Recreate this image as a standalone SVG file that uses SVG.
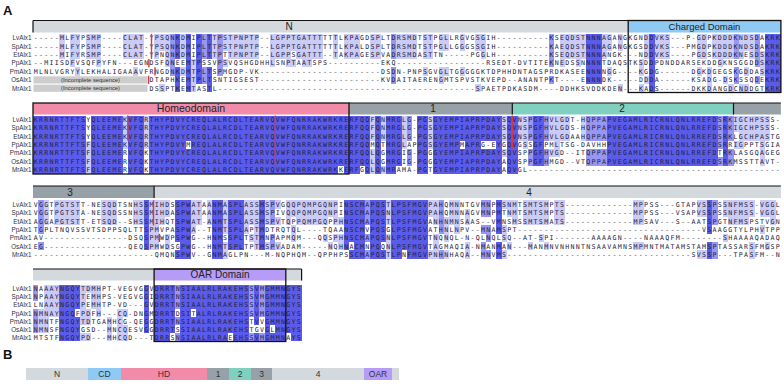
<svg xmlns="http://www.w3.org/2000/svg" width="784" height="386" viewBox="0 0 784 386">
<style>
.seq{font-family:"DejaVu Sans Mono",monospace;font-size:6.6px;letter-spacing:1.293px;fill:#22223a}
.lab{font-family:"Liberation Sans",Arial,sans-serif;font-size:6.3px;fill:#333;text-anchor:end}
.hd{font-family:"Liberation Sans",Arial,sans-serif;font-size:10px;fill:#222;text-anchor:middle}
.inc{font-family:"Liberation Sans",Arial,sans-serif;font-size:5.8px;fill:#333;text-anchor:middle}
.big{font-family:"Liberation Sans",Arial,sans-serif;font-size:13px;font-weight:bold;fill:#111}
.bl{font-family:"Liberation Sans",Arial,sans-serif;font-size:8.5px;fill:#333;text-anchor:middle}
.d{fill:#5b5be9}.m{fill:#9797f3}.l{fill:#cbcbf8}
.ng{fill:#d3d9dd}.dg{fill:#96a1a8}.pk{fill:#f28aa9}.tl{fill:#80d0c0}.cb{fill:#8ecaf4}.pu{fill:#b69cf7}
.box{fill:none;stroke:#111;stroke-width:1.3}
.ln{stroke:#111;stroke-width:1.2}
.rd{stroke:#d9373d;stroke-width:1.4}
.gb{fill:#cdcdcd}
</style>

<text class="big" x="3" y="15">A</text>

<!-- Block 1 -->
<g id="block1">
<rect class="ng" x="33" y="20.5" width="595.2" height="12"/>
<rect class="cb" x="628.2" y="20.5" width="152.7" height="12"/>
<line class="ln" x1="33" y1="20.5" x2="628.2" y2="20.5"/>
<line class="ln" x1="33" y1="20.5" x2="33" y2="32.5"/>
<text class="hd" x="289" y="30">N</text>
<text class="hd" x="704.5" y="30" style="font-size:9.5px">Charged Domain</text>
<g transform="translate(33,33.9) scale(5.267,8.35)" shape-rendering="crispEdges">
<path class="d" d="M27 0h1v3h-1zM27 4h1v3h-1zM29 0h1v7h-1zM31 0h1v6h-1zM33 0h1v3h-1zM33 4h1v3h-1zM105 0h3v6h-3zM117 0h1v7h-1zM139 0h3v7h-3z"/>
<path class="m" d="M26 0h1v5h-1zM32 0h1v3h-1zM32 4h1v2h-1zM35 0h1v5h-1zM68 0h1v3h-1zM68 4h1v2h-1zM98 0h1v4h-1zM98 5h1v1h-1zM133 0h1v3h-1zM133 4h1v2h-1zM137 0h1v4h-1zM137 5h1v1h-1z"/>
<path class="l" d="M5 0h1v2h-1zM7 0h2v2h-2zM10 0h3v2h-3zM17 0h4v2h-4zM23 0h3v2h-3zM28 0h1v2h-1zM34 0h1v2h-1zM36 0h7v2h-7zM45 0h10v2h-10zM57 0h1v2h-1zM59 0h3v2h-3zM64 0h2v2h-2zM69 0h4v2h-4zM74 0h2v2h-2zM77 0h2v2h-2zM81 0h1v2h-1zM84 0h2v2h-2zM100 0h5v2h-5zM108 0h2v2h-2zM111 0h1v2h-1zM116 0h1v2h-1zM118 0h3v2h-3zM126 0h2v2h-2zM129 0h4v2h-4zM134 0h3v2h-3z
M5 2h1v1h-1zM7 2h2v1h-2zM10 2h3v1h-3zM17 2h4v1h-4zM23 2h1v1h-1zM25 2h1v1h-1zM28 2h1v1h-1zM34 2h1v1h-1zM37 2h6v1h-6zM45 2h4v1h-4zM50 2h5v1h-5zM57 2h1v1h-1zM59 2h3v1h-3zM64 2h2v1h-2zM69 2h4v1h-4zM74 2h2v1h-2zM85 2h1v1h-1zM100 2h5v1h-5zM108 2h1v1h-1zM116 2h1v1h-1zM118 2h3v1h-3zM126 2h2v1h-2zM129 2h4v1h-4zM134 2h1v1h-1zM136 2h1v1h-1zM138 2h1v1h-1z
M7 3h1v1h-1zM12 3h1v1h-1zM25 3h1v1h-1zM30 3h1v1h-1zM36 3h1v1h-1zM45 3h1v1h-1zM48 3h2v1h-2zM51 3h2v1h-2zM100 3h1v1h-1zM103 3h1v1h-1zM115 3h1v1h-1zM130 3h1v1h-1zM138 3h1v1h-1z
M8 4h1v1h-1zM19 4h1v1h-1zM28 4h1v1h-1zM30 4h1v1h-1zM74 4h1v1h-1zM77 4h2v1h-2zM81 4h1v1h-1zM109 4h1v1h-1zM115 4h1v1h-1zM126 4h1v1h-1zM128 4h1v1h-1zM135 4h1v1h-1zM138 4h1v1h-1z
M30 5h1v1h-1zM77 5h1v1h-1zM116 5h1v1h-1zM128 5h1v1h-1zM131 5h1v1h-1z
M24 6h1v1h-1zM30 6h1v1h-1zM84 6h1v1h-1zM111 6h1v1h-1zM115 6h1v1h-1zM128 6h1v1h-1zM132 6h1v1h-1zM134 6h2v1h-2z"/>
</g>
<rect class="gb" x="33.5" y="76.3" width="114" height="7.2"/>
<rect class="gb" x="33.5" y="84.65" width="114" height="7.2"/>
<text class="inc" x="90.5" y="82">(Incomplete sequence)</text>
<text class="inc" x="90.5" y="90.35">(Incomplete sequence)</text>
<text class="lab" x="31.5" y="40.4">LvAlx1</text>
<text class="lab" x="31.5" y="48.75">SpAlx1</text>
<text class="lab" x="31.5" y="57.1">EtAlx1</text>
<text class="lab" x="31.5" y="65.45">PpAlx1</text>
<text class="lab" x="31.5" y="73.8">PmAlx1</text>
<text class="lab" x="31.5" y="82.15">OsAlx1</text>
<text class="lab" x="31.5" y="90.5">MrAlx1</text>
<g text-rendering="geometricPrecision">
<text class="seq" x="33.65" y="40.4">-----MLFYPSMP----CLAT-YPSQNKDMIPLTTPSTPNPTP--LGPPTGATTTTTTLKPAGDSPLTDRSMDTSTPGLLRGVGSGIH----------KSEQDSTNNNAGANGKGNDDVKS---P-GDPKDDDKNDSDAKRK</text>
<text class="seq" x="33.65" y="48.75">-----MLFYPSMP----CLAT-YPSQNKDMIPLTTPSTPNPTP--LGPPTGATTTTTTLKPALDSPLTDRSMDTSTPGLLGGGSSGIH----------KAEQDSTNNNAGANGKGSDDVKS---PMGDPKDDDKNDSDAKRK</text>
<text class="seq" x="33.65" y="57.1">-----MIFYRSMP----CLAT-YPNQNKDMIPLTTPTTPNPTP--LGPPSGATTT--TAKPAGESPVADRSMDASTTN-----PGGLH----------KSEQDSTNNNANGK---NDDVKS----PGDSKDDDKNESDSKRK</text>
<text class="seq" x="33.65" y="65.45">--MIISDFVSQFPYFN---EGNDSFQNEEMTPSSVPSVQSHGDHHLSNPTAATSPS----------EKQ-----------------RSEDT-DVTITEKNEDSSNNNNTDAQSTKSDDPDNDDARSEKDDGKNSGGDDSKRK</text>
<text class="seq" x="33.65" y="73.8">MLNLVGRYYLEKHALIGAAAVFRNGDNKDMTPLTSPMGDP-VK-----------------------DSDN-PNPSGVGLTGGGGGKTDPHHDNTAGSPRDKASEENNNNGG----KGDG------DGKDGEGSKGDDASKRK</text>
<text class="seq" x="149.52" y="82.15">DTAPHKEMTPLTSNTIGSEST-----------------------KVDAITAERENGMTSPVSTKVEPD--ANANTPKT----ENNNDK-----DDDA------KSADG-DSKSSQDEKRK</text>
<text class="seq" x="149.52" y="90.5">DSSPTKEMTASTL-------------------------------------------------SPAETPDKASDM----DDHKSVDDKDEN---KADS------DKKDANGDCNDDGTKRK</text>
</g>
<line class="rd" x1="151.5" y1="33.9" x2="151.5" y2="58.9"/>
<line class="rd" x1="148.9" y1="59" x2="148.9" y2="67.3"/>
<line class="rd" x1="155" y1="67.3" x2="155" y2="75.6"/>
<line class="rd" x1="148.6" y1="75.7" x2="148.6" y2="84"/>
<rect class="box" x="628.2" y="20.5" width="152.7" height="72"/>
</g>

<!-- Block 2 -->
<g id="block2">
<rect class="pk" x="33" y="103" width="316" height="11.5"/>
<rect class="dg" x="349" y="103" width="163.3" height="11.5"/>
<rect class="tl" x="512.3" y="103" width="221.2" height="11.5"/>
<rect class="dg" x="733.5" y="103" width="47.4" height="11.5"/>
<line class="ln" x1="349" y1="103" x2="780.9" y2="103"/>
<line class="ln" x1="512.3" y1="103" x2="512.3" y2="114.5"/>
<line class="ln" x1="733.5" y1="103" x2="733.5" y2="114.5"/>
<text class="hd" x="191" y="112.3" style="font-size:10.5px">Homeodomain</text>
<text class="hd" x="433" y="112.3">1</text>
<text class="hd" x="622" y="112.3">2</text>
<g transform="translate(33,115.5) scale(5.267,8.35)" shape-rendering="crispEdges">
<path class="d" d="M0 0h10v7h-10zM11 0h6v7h-6zM18 0h3v7h-3zM22 0h7v7h-7zM29 0h1v3h-1zM29 4h1v3h-1zM30 0h28v7h-28zM58 0h1v6h-1zM59 0h3v7h-3zM62 0h1v6h-1zM63 0h1v7h-1zM65 0h1v7h-1zM67 0h2v7h-2zM69 0h1v6h-1zM73 0h2v7h-2zM76 0h5v7h-5zM81 0h1v3h-1zM81 4h1v3h-1zM82 0h3v7h-3zM85 0h3v3h-3zM85 4h3v3h-3zM88 0h1v7h-1zM90 0h2v7h-2zM95 0h2v6h-2zM109 0h21v6h-21zM131 0h1v6h-1z"/>
<path class="m" d="M71 0h1v3h-1zM71 4h1v2h-1zM94 0h1v3h-1zM94 4h1v2h-1zM97 0h1v3h-1zM97 4h1v2h-1zM105 0h4v3h-4zM105 4h4v2h-4zM130 0h1v4h-1zM130 5h1v1h-1zM132 0h1v3h-1zM132 4h1v2h-1z"/>
<path class="l" d="M10 3h1v4h-1zM17 0h1v4h-1zM21 0h1v4h-1zM64 0h1v3h-1zM64 4h1v3h-1zM66 0h1v3h-1zM66 6h1v1h-1zM70 0h1v4h-1zM75 0h1v4h-1zM89 0h1v3h-1zM89 4h1v1h-1zM92 0h1v3h-1zM93 0h1v4h-1zM98 0h1v3h-1zM98 4h1v1h-1zM99 0h1v5h-1zM100 0h2v3h-2zM104 0h1v3h-1zM133 0h1v2h-1zM133 3h1v1h-1zM134 0h1v4h-1zM135 0h3v3h-3zM138 0h1v6h-1zM139 0h1v3h-1z"/>
</g>
<text class="lab" x="31.5" y="122">LvAlx1</text>
<text class="lab" x="31.5" y="130.35">SpAlx1</text>
<text class="lab" x="31.5" y="138.7">EtAlx1</text>
<text class="lab" x="31.5" y="147.05">PpAlx1</text>
<text class="lab" x="31.5" y="155.4">PmAlx1</text>
<text class="lab" x="31.5" y="163.75">OsAlx1</text>
<text class="lab" x="31.5" y="172.1">MrAlx1</text>
<g text-rendering="geometricPrecision">
<text class="seq" x="33.65" y="122">KRRNRTTFTSYQLEEMEKVFQRTHYPDVYCREQLALRCDLTEARVQVWFQNRRAKWRKRERFQQFQNMRGLG-PGSGYEMPIAPRPDAYSQVNSPGFHVLGDT-HQPPAPVEGAMLRICRNLQNLRREFDSRKIGCHPSSS-</text>
<text class="seq" x="33.65" y="130.35">KRRNRTTFTSYQLEEMEKVFQRTHYPDVYCREQLALRCDLTEARVQVWFQNRRAKWRKRERFQQFQNMRGLG-PGSGYEMPIAPRPDAYSQVNSPGFHVLGDS-HQPPAPVEGAMLRICRNLQNLRREFDSRKIGCHPSSS-</text>
<text class="seq" x="33.65" y="138.7">KRRNRTTFTSYQLEEMEKVFQRTHYPDVYCREQLALRCDLTEARVQVWFQNRRAKWRKRERFQQFQNMRGLG-PGSGYEMPIAPRPDAYSQVNSPGFHVLGDAAHQPPAPVEGAMLRICRNLQNLRREFDSRKLGCHPASTG</text>
<text class="seq" x="33.65" y="147.05">KRRNRTTFTSFQLEEMEKVFQRTHYPDVYMREQLALRCDLTEARVQVWFQNRRAKWRKRERFQQMQTMRGLAPPGSGYEMPMAPRG-EYGQVGSSGFPMLTSG-DAVHHPVEGAMLRICRNLQNLRREFDSRRIGPPTSGIA</text>
<text class="seq" x="33.65" y="155.4">KRRNRTTFTSFQLEEMERVFQKTHYPDVYCREQLALRCDLTEARVQVWFQNRRAKWRKRERFQQLQGMRGIG-PGGGYEMPIAPRPDAYSQVSPPGFHVGD--ITQPPAPVEGAMLRICRNLQNLRREFDTRKLASGQAGEG</text>
<text class="seq" x="33.65" y="163.75">KRRNRTTFTSFQLEEMERVFQKTHYPDVYCREQLALRCDLTEARVQVWFQNRRAKWRKRERFQQLQGMRGIG-PGGGYEMPIAPRPDAYAQVSPPGFHMGD--VTQPPAPVEGAMLRICRNLQNLRREFDSRKMSSTTAVT-</text>
<text class="seq" x="33.65" y="172.1">KRRNRTTFTSFQLEEMERVFQKTHYPDVYCREQLALRCDLTEARVQVWFQNRRAKWRKKERFGQLQNMRAMA-PGTGYEMPIAPRPDAYAQVGL------------------------------------------------</text>
</g>
<line class="rd" x1="127.8" y1="115.5" x2="127.8" y2="140.6"/>
<line class="rd" x1="275.3" y1="115.5" x2="275.3" y2="165.6"/>
<line class="rd" x1="512.3" y1="115.5" x2="512.3" y2="148.9"/>
<rect class="box" x="33" y="103" width="316" height="71"/>
</g>

<!-- Block 3 -->
<g id="block3">
<rect class="dg" x="33" y="186" width="121.1" height="12"/>
<rect class="ng" x="154.1" y="186" width="626.8" height="12"/>
<line class="ln" x1="33" y1="186" x2="780.9" y2="186"/>
<line class="ln" x1="154.1" y1="186" x2="154.1" y2="198"/>
<text class="hd" x="70" y="195.5">3</text>
<text class="hd" x="529" y="195.5">4</text>
<g transform="translate(33,200.3) scale(5.267,8.35)" shape-rendering="crispEdges">
<path class="d" d="M21 0h1v6h-1zM27 0h1v5h-1zM27 6h1v1h-1zM28 0h2v7h-2zM34 0h2v7h-2zM37 0h3v6h-3zM43 0h1v6h-1zM59 0h1v6h-1zM60 0h1v5h-1zM60 6h1v1h-1zM61 0h2v7h-2zM64 0h2v7h-2zM66 0h1v5h-1zM66 6h1v1h-1zM68 0h2v7h-2zM70 0h1v6h-1zM71 0h4v7h-4zM88 0h1v4h-1zM88 5h1v2h-1zM128 0h1v4h-1zM128 5h1v2h-1z"/>
<path class="m" d="M1 0h1v4h-1zM1 5h1v1h-1zM45 0h1v3h-1zM45 4h1v2h-1zM63 0h1v3h-1zM63 4h1v1h-1zM63 6h1v1h-1zM77 0h1v4h-1zM77 6h1v1h-1zM85 0h1v2h-1zM85 3h1v1h-1zM85 5h1v2h-1zM86 0h1v2h-1zM86 3h1v2h-1zM86 6h1v1h-1zM129 0h1v3h-1zM129 5h1v2h-1z"/>
<path class="l" d="M2 0h1v3h-1zM4 0h5v3h-5zM13 0h3v3h-3zM19 0h2v3h-2zM22 0h2v6h-2zM24 0h1v3h-1zM25 0h1v2h-1zM25 4h1v2h-1zM30 0h1v4h-1zM31 0h1v3h-1zM33 0h1v3h-1zM36 0h1v4h-1zM36 5h1v2h-1zM40 0h1v4h-1zM41 0h1v3h-1zM41 4h1v1h-1zM42 0h1v6h-1zM44 0h1v3h-1zM44 5h1v1h-1zM46 0h1v1h-1zM46 2h1v1h-1zM46 5h1v1h-1zM48 0h1v3h-1zM49 0h1v2h-1zM49 3h1v2h-1zM50 0h5v3h-5zM55 0h1v3h-1zM55 4h1v1h-1zM56 0h1v2h-1zM56 5h1v1h-1zM57 0h1v3h-1zM57 4h1v1h-1zM58 2h1v1h-1zM58 4h1v2h-1zM67 0h1v3h-1zM67 4h1v3h-1zM75 0h1v2h-1zM75 6h1v1h-1zM76 0h1v3h-1zM76 4h1v3h-1zM78 2h1v3h-1zM78 6h1v1h-1zM79 0h1v3h-1zM80 0h1v4h-1zM82 1h1v2h-1zM82 5h1v2h-1zM89 0h1v1h-1zM89 3h1v2h-1zM89 6h1v1h-1zM90 0h1v2h-1zM90 5h1v1h-1zM91 0h1v3h-1zM93 0h1v3h-1zM94 0h1v3h-1zM94 5h1v1h-1zM95 0h1v3h-1zM96 0h1v3h-1zM96 4h1v1h-1zM97 0h1v3h-1zM97 5h1v1h-1zM99 0h2v3h-2zM114 0h2v3h-2zM114 5h2v1h-2zM126 0h2v2h-2zM126 6h2v1h-2zM131 0h1v2h-1zM131 4h1v1h-1zM132 0h4v3h-4zM136 0h1v2h-1zM136 5h1v2h-1zM138 0h1v2h-1zM138 3h1v1h-1zM139 0h1v2h-1zM139 5h1v1h-1zM140 0h1v3h-1z"/>
</g>
<text class="lab" x="31.5" y="206.8">LvAlx1</text>
<text class="lab" x="31.5" y="215.15">SpAlx1</text>
<text class="lab" x="31.5" y="223.5">EtAlx1</text>
<text class="lab" x="31.5" y="231.85">PpAlx1</text>
<text class="lab" x="31.5" y="240.2">PmAlx1</text>
<text class="lab" x="31.5" y="248.55">OsAlx1</text>
<text class="lab" x="31.5" y="256.9">MrAlx1</text>
<g text-rendering="geometricPrecision">
<text class="seq" x="33.65" y="206.8">VGGTPGTSTT-NESQDTSNHSSMIHDSSPWATAANMASPLASSMSPVGQQPQMPGQNPINSCMAPQSTLPSFMGVPAHQMNNTGVMNPMSNMTSMTSMPTS-------------MPPSS---GTAPVSSPSSNFMSS-VGGL</text>
<text class="seq" x="33.65" y="215.15">VGGTPGTSTA-NESQDSSNHSSMIHDASPWATAANMASPLASSMSPIVQQPQMPGQNPINSCMAPQSNLPSFMGVPAHQMNNAGVMNPMTNMTSMTSMPTS-------------MPPSS---VSAPVSSPSSNFMSS-VGGL</text>
<text class="seq" x="33.65" y="223.5">AGGAPGTSTT-ETSQD--SHSSMIHQTSPWAT-ANMTSPLASSMSPVTQPPQMPGQPPHNSCMAPQSTLPSFMGVANHNMNSAAS--VMNSMSSMTSMATS-------------MPSAV---S--AATSPGTNFMSPSTVGN</text>
<text class="seq" x="33.65" y="231.85">TGPLTNQVSSVTSDPPSQLTTSPMVPASPWA--TNMTSPLAPTMDTRQTQL----TQAANSCMVPQSGLPSFMGVATHNLNPV--MNAMSPT-----------------------------------VSAAGGTYLPHVTPP</text>
<text class="seq" x="33.65" y="240.2">AV----------------DSQSPMWDPSPWG--HNMSSPLTSTMNPAPMQM---QQSPHNSCMAPQSNLPSFMGVTNQNQL-N-QLNQLSQ--AT-SPI-------AAAAGN----NAAAQFM--------SHAAAAQADAQ</text>
<text class="seq" x="33.65" y="248.55">EG----------------QEQSPMWDSGPWG--HNMTSPLTPTMSPVADAM-----NQHNACMNPQQNLPSFMGVTAGMAQIA-NMANMAN---MANMNVNHNNTNSAAVAMNSMPMNTMATAMSTAMSPTASSARSFMGSP</text>
<text class="seq" x="33.65" y="256.9">-----------------------QMQNSPWV--GNMAGLPN---M-NQPHQM--QPPHPSSCMAPQSTLPNFMGVPNHNHAQA--MNVMS-----------------------------------SVSSP---TPASFM--N</text>
</g>
<line class="rd" x1="153.5" y1="200.3" x2="153.5" y2="225.4"/>
<line class="rd" x1="159.4" y1="233.7" x2="159.4" y2="242"/>
</g>

<!-- Block 4 -->
<g id="block4">
<rect class="ng" x="33" y="269" width="121.1" height="11.5"/>
<rect class="pu" x="154.1" y="269" width="131.7" height="11.5"/>
<rect class="ng" x="285.8" y="269" width="15.8" height="11.5"/>
<line class="ln" x1="33" y1="269" x2="301.6" y2="269"/>
<line class="ln" x1="301.6" y1="269" x2="301.6" y2="280.5"/>
<text class="hd" x="220" y="278.3">OAR Domain</text>
<g transform="translate(33,284.7) scale(5.267,8.1)" shape-rendering="crispEdges">
<path class="d" d="M5 0h3v7h-3zM8 0h1v3h-1zM8 4h1v3h-1zM21 0h1v6h-1zM23 0h3v7h-3zM26 0h1v6h-1zM28 0h2v7h-2zM30 0h1v3h-1zM30 4h1v3h-1zM31 0h6v7h-6zM37 0h1v6h-1zM38 0h3v7h-3zM42 0h1v5h-1zM42 6h1v1h-1zM44 0h1v7h-1zM45 0h1v5h-1zM45 6h1v1h-1zM46 0h2v7h-2zM48 0h1v6h-1zM49 0h2v7h-2z"/>
<path class="m" d="M0 0h1v2h-1zM0 3h1v3h-1zM27 0h1v3h-1zM27 4h1v1h-1zM27 6h1v1h-1zM41 0h1v4h-1zM41 6h1v1h-1zM43 0h1v4h-1zM43 6h1v1h-1z"/>
<path class="l" d="M1 3h1v3h-1zM2 0h1v6h-1zM3 0h2v4h-2zM9 0h1v5h-1zM9 6h1v1h-1zM10 0h1v1h-1zM10 3h1v2h-1zM10 6h1v1h-1zM11 0h1v3h-1zM12 0h1v4h-1zM14 4h1v3h-1zM16 3h1v4h-1zM17 3h1v1h-1zM17 5h1v2h-1z"/>
</g>
<text class="lab" x="31.5" y="291.2">LvAlx1</text>
<text class="lab" x="31.5" y="299.3">SpAlx1</text>
<text class="lab" x="31.5" y="307.4">EtAlx1</text>
<text class="lab" x="31.5" y="315.5">PpAlx1</text>
<text class="lab" x="31.5" y="323.6">PmAlx1</text>
<text class="lab" x="31.5" y="331.7">OsAlx1</text>
<text class="lab" x="31.5" y="339.8">MrAlx1</text>
<g text-rendering="geometricPrecision">
<text class="seq" x="33.65" y="291.2">NAAAYNGQYTDMHPT-VEGVGGVDRRTNSIAALRLRAKEHSSVMGMMNGYS</text>
<text class="seq" x="33.65" y="299.3">NPAAYNGQYTEMHPS-VEGVGGIDRRTNSIAALRLRAKEHSSVMGMMNGYS</text>
<text class="seq" x="33.65" y="307.4">LNAAYNGQYPEMHTP-VD---GVDRRTNSIAALRLRAKEHSSVMGMMNGYS</text>
<text class="seq" x="33.65" y="315.5">NMNAYNGQFPDFH---CQ-DNGMDRRTDSITALRLRAKEHSSVMGMMNGYS</text>
<text class="seq" x="33.65" y="323.6">NMNTFNGQYTDTGAMHCG-QEGGDRRTNSIAALRLRAKEHSTVVGMMNGYS</text>
<text class="seq" x="33.65" y="331.7">NMNSFNGQYGSD--MNCQESVGGDRRTSSIAALRLRAKEHSTGVGLMNGYS</text>
<text class="seq" x="33.65" y="339.8">MTSTFNGQYPD---MHCQD---TDRRSNSIAALRLRAEEHSSVMGMMNAYS</text>
</g>
<rect class="box" x="154.1" y="269" width="131.7" height="72.5"/>
</g>

<!-- Panel B -->
<text class="big" x="3" y="359">B</text>
<g id="domain-bar">
<rect class="ng" x="26" y="368" width="62" height="12"/>
<rect class="cb" x="88" y="368" width="33" height="12"/>
<rect class="pk" x="121" y="368" width="86" height="12"/>
<rect class="dg" x="207" y="368" width="22" height="12"/>
<rect class="tl" x="229" y="368" width="22" height="12"/>
<rect class="dg" x="251" y="368" width="21" height="12"/>
<rect class="ng" x="272" y="368" width="92" height="12"/>
<rect class="pu" x="364" y="368" width="28" height="12"/>
<rect class="ng" x="392" y="368" width="7" height="12"/>
<text class="bl" x="57" y="377.2">N</text>
<text class="bl" x="104.5" y="377.2">CD</text>
<text class="bl" x="164" y="377.2">HD</text>
<text class="bl" x="218" y="377.2">1</text>
<text class="bl" x="240" y="377.2">2</text>
<text class="bl" x="261.5" y="377.2">3</text>
<text class="bl" x="318" y="377.2">4</text>
<text class="bl" x="378" y="377.2">OAR</text>
</g>
</svg>
